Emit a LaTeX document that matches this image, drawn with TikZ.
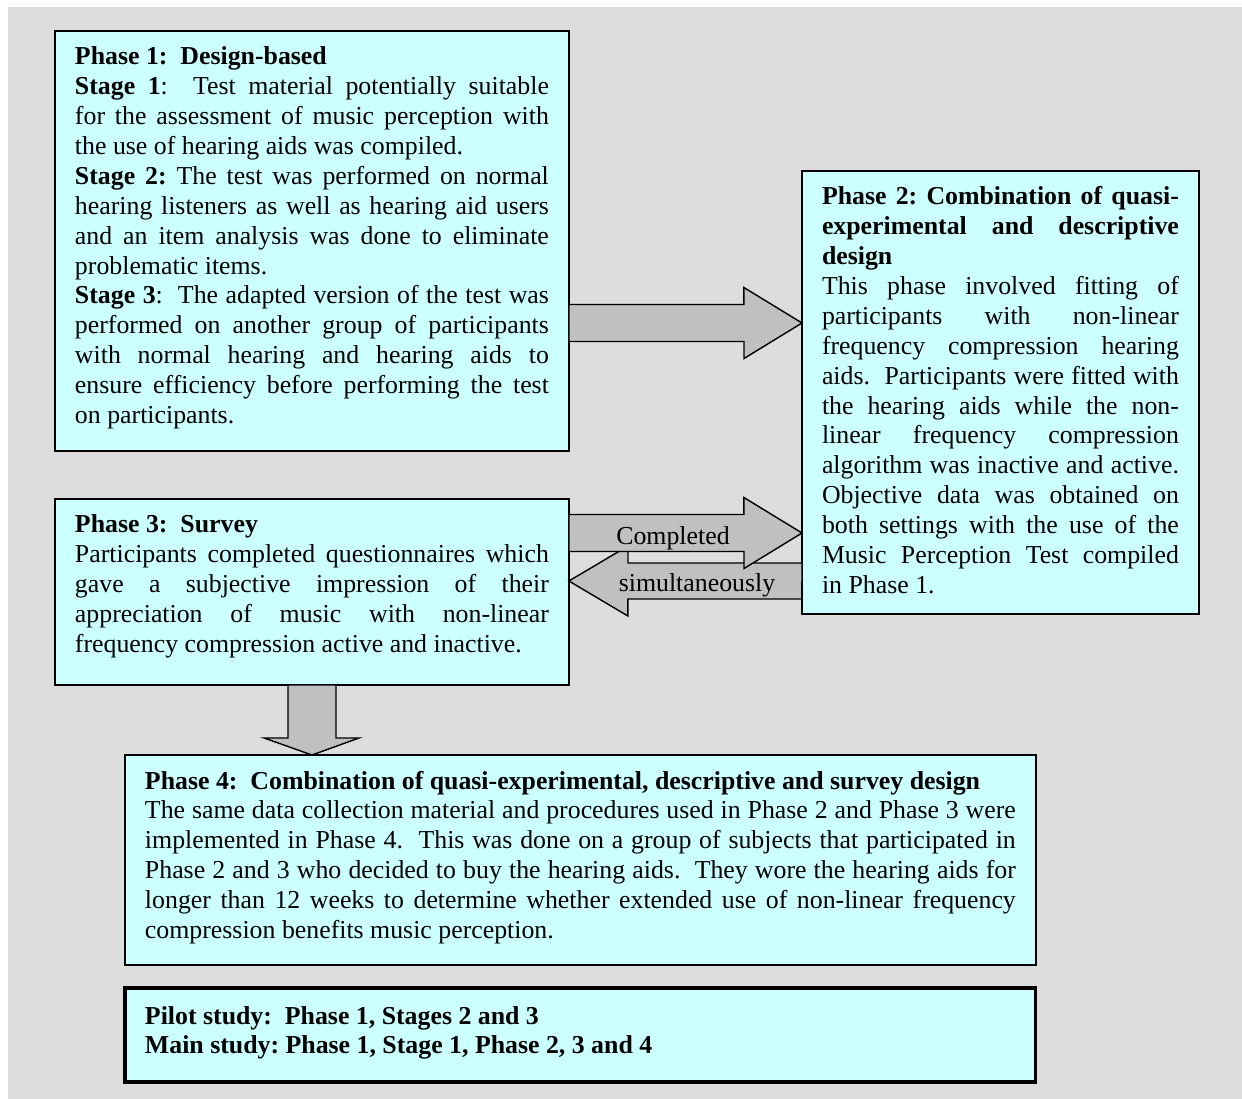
\documentclass[tikz,border=0pt]{standalone}
\usepackage{fontspec}
\setmainfont{Liberation Serif}
\definecolor{phasecyan}{HTML}{CCFFFF}
\definecolor{arrowgrey}{HTML}{C0C0C0}
\definecolor{backgrey}{HTML}{DDDDDD}
\tolerance=9999
\emergencystretch=2em
\hyphenpenalty=10000
\exhyphenpenalty=10000
\frenchspacing
\begin{document}
\begin{tikzpicture}[x=0.02cm, y=-0.02cm,
  phase/.style={draw, line width=0.9pt, fill=phasecyan, anchor=north west, outer sep=0pt,
    inner xsep=0.4cm, inner ysep=0pt, text height=0.68cm, align=justify,
    font=\fontsize{14.7pt}{17pt}\selectfont},
  blockarrow/.style={draw, line width=0.8pt, fill=arrowgrey},
  lbl/.style={anchor=base, inner sep=0pt, font=\fontsize{14.7pt}{17pt}\selectfont}]
\useasboundingbox (0,0) rectangle (1242,1099);
\fill[backgrey] (8,7) rectangle (1242,1099);
% phase boxes
\node[phase, text width=9.48cm, text depth=7.72cm] (ph1) at (55,31) {%
\textbf{Phase 1:\ \ Design-based}\par
\textbf{Stage 1}:\ \ Test material potentially suitable\linebreak
for the assessment of music perception with\linebreak
the use of hearing aids was compiled.\par
\textbf{Stage 2:} The test was performed on normal\linebreak
hearing listeners as well as hearing aid users\linebreak
and an item analysis was done to eliminate\linebreak
problematic items.\par
\textbf{Stage 3}:\ \ The adapted version of the test was\linebreak
performed on another group of participants\linebreak
with normal hearing and hearing aids to\linebreak
ensure efficiency before performing the test\linebreak
on participants.};
\node[phase, text width=7.14cm, text depth=8.18cm] (ph2) at (802,171) {%
\textbf{Phase 2: Combination of quasi-\linebreak
experimental and descriptive\linebreak
design}\par
This phase involved fitting of\linebreak
participants with non-linear\linebreak
frequency compression hearing\linebreak
aids.\ \ Participants were fitted with\linebreak
the hearing aids while the non-\linebreak
linear frequency compression\linebreak
algorithm was inactive and active.\linebreak
Objective data was obtained on\linebreak
both settings with the use of the\linebreak
Music Perception Test compiled\linebreak
in Phase 1.};
\node[phase, text width=9.48cm, text depth=3.04cm] (ph3) at (55,499) {%
\textbf{Phase 3:\ \ Survey}\par
Participants completed questionnaires which\linebreak
gave a subjective impression of their\linebreak
appreciation of music with non-linear\linebreak
frequency compression active and inactive.};
\node[phase, text width=17.42cm, text depth=3.52cm] (ph4) at (125,755) {%
\textbf{Phase 4:\ \ Combination of quasi-experimental, descriptive and survey design}\par
The same data collection material and procedures used in Phase 2 and Phase 3 were\linebreak
implemented in Phase 4.\ \ This was done on a group of subjects that participated in\linebreak
Phase 2 and 3 who decided to buy the hearing aids.\ \ They wore the hearing aids for\linebreak
longer than 12 weeks to determine whether extended use of non-linear frequency\linebreak
compression benefits music perception.};
\node[phase, line width=1.8pt, text width=17.42cm, text height=0.72cm, text depth=1.16cm] (study) at (125,988) {%
\textbf{Pilot study:\ \ Phase 1, Stages 2 and 3}\par
\textbf{Main study: Phase 1, Stage 1, Phase 2, 3 and 4}};
% block arrows
\draw[blockarrow] (ph1.east |- 0,304.5) -- ++(175,0) -- ++(0,-17) -- (ph2.west |- 0,323)
  -- ++(-58,35.5) -- ++(0,-17) -- ++(-175,0) -- cycle;
\draw[blockarrow] (ph2.west |- 0,563) -- ++(-174,0) -- ++(0,-17) -- (ph3.east |- 0,581)
  -- ++(59,35) -- ++(0,-17) -- ++(174,0) -- cycle;
\draw[blockarrow] (ph3.east |- 0,514.5) -- ++(175,0) -- ++(0,-17) -- (ph2.west |- 0,533)
  -- ++(-58,35.5) -- ++(0,-17) -- ++(-175,0) -- cycle;
\draw[blockarrow] (ph3.south -| 288,0) -- ++(0,53) -- ++(-24,0) -- (ph4.north -| 312,0)
  -- ++(47,-17) -- ++(-23,0) -- ++(0,-53) -- cycle;
\node[lbl] (done) at (673,544) {Completed};
\node[lbl] (same) at (697,591) {simultaneously};
\end{tikzpicture}
\end{document}
